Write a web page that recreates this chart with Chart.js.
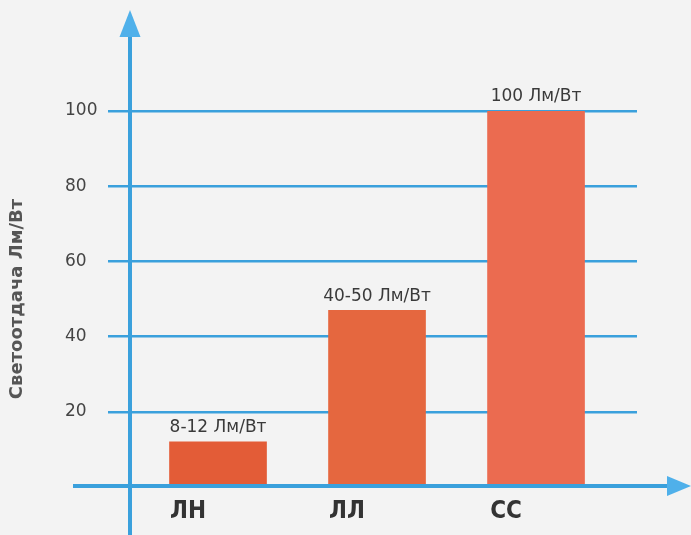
<!DOCTYPE html>
<html lang="ru">
  <head>
    <meta charset="UTF-8" />
    <title>Светоотдача</title>
    <script src="https://cdn.jsdelivr.net/npm/chart.js"></script>
    <style>
      body { margin: 0; background: #f3f3f3; }
      #wrap { width: 691px; height: 535px; position: relative; }
    </style>
  </head>
  <body>
    <div id="wrap"><canvas id="chart"></canvas></div>

    <script>
      // данные
      const categories = ["ЛН", "ЛЛ", "СС"];
      const values = [12, 47, 100];
      const barLabels = ["8-12 Лм/Вт", "40-50 Лм/Вт", "100 Лм/Вт"];
      const yTicks = [20, 40, 60, 80, 100];
      const axisTitle = "Светоотдача Лм/Вт";

      const blue = "#3aa0dc";
      const arrowBlue = "#4fb0ea";
      const barColors = ["#e35c37", "#e5673f", "#eb6b50"];

      // оси со стрелками, подписи столбцов, заголовок оси
      const decor = {
        id: "decor",
        afterDatasetsDraw(chart) {
          const ctx = chart.ctx;
          const y = chart.scales.y;
          const x0 = y.right;
          const y0 = y.getPixelForValue(0) - 1;

          ctx.save();
          // подписи над столбцами
          ctx.fillStyle = "#3a3a3a";
          ctx.font = "17px 'DejaVu Sans', sans-serif";
          ctx.textAlign = "center";
          ctx.textBaseline = "middle";
          chart.getDatasetMeta(0).data.forEach((bar, i) => {
            ctx.fillText(barLabels[i], bar.x, bar.y - 14);
          });

          // ось Y
          ctx.strokeStyle = blue;
          ctx.lineWidth = 4;
          ctx.beginPath();
          ctx.moveTo(x0, 36);
          ctx.lineTo(x0, chart.height);
          ctx.stroke();
          ctx.fillStyle = arrowBlue;
          ctx.beginPath();
          ctx.moveTo(x0, 10);
          ctx.lineTo(x0 - 10.5, 37);
          ctx.lineTo(x0 + 10.5, 37);
          ctx.closePath();
          ctx.fill();

          // ось X
          ctx.strokeStyle = blue;
          ctx.beginPath();
          ctx.moveTo(73, y0);
          ctx.lineTo(668, y0);
          ctx.stroke();
          ctx.fillStyle = arrowBlue;
          ctx.beginPath();
          ctx.moveTo(691, y0);
          ctx.lineTo(667, y0 - 10);
          ctx.lineTo(667, y0 + 10);
          ctx.closePath();
          ctx.fill();

          // заголовок оси Y
          ctx.translate(17, (y.top + y.bottom) / 2);
          ctx.rotate(-Math.PI / 2);
          ctx.fillStyle = "#555";
          ctx.font = "bold 18px 'DejaVu Sans', sans-serif";
          ctx.fillText(axisTitle, 0, 0);
          ctx.restore();
        },
      };

      new Chart(document.getElementById("chart"), {
        type: "bar",
        data: {
          datasets: [
            {
              data: values.map((v, i) => ({ x: i, y: v })),
              backgroundColor: barColors,
              barThickness: 97,
              borderWidth: 0,
            },
          ],
        },
        options: {
          responsive: true,
          maintainAspectRatio: false,
          animation: false,
          layout: { padding: { left: 65, top: 111, right: 54, bottom: 0 } },
          plugins: { legend: { display: false }, tooltip: { enabled: false } },
          scales: {
            x: {
              type: "linear",
              offset: false,
              min: -0.5535,
              max: 2.635,
              grid: { display: false, drawTicks: false },
              border: { display: false },
              afterBuildTicks: (s) => {
                s.ticks = categories.map((c, i) => ({ value: i }));
              },
              afterFit: (s) => { s.height = 48; },
              ticks: {
                padding: 10,
                labelOffset: -30,
                color: "#333",
                font: { family: "'Liberation Sans Narrow', 'DejaVu Sans Condensed', sans-serif", size: 24, weight: "bold" },
                callback: (v) => categories[v] ?? "",
              },
            },
            y: {
              min: 0,
              max: 100,
              border: { display: false },
              afterBuildTicks: (s) => {
                s.ticks = yTicks.map((v) => ({ value: v }));
              },
              afterFit: (s) => { s.width = 65; },
              grid: {
                color: blue,
                lineWidth: 2.5,
                tickLength: 22,
              },
              ticks: {
                crossAlign: "far",
                padding: 6,
                color: "#444",
                font: { family: "'DejaVu Sans', sans-serif", size: 17 },
              },
            },
          },
        },
        plugins: [decor],
      });
    </script>
  </body>
</html>
